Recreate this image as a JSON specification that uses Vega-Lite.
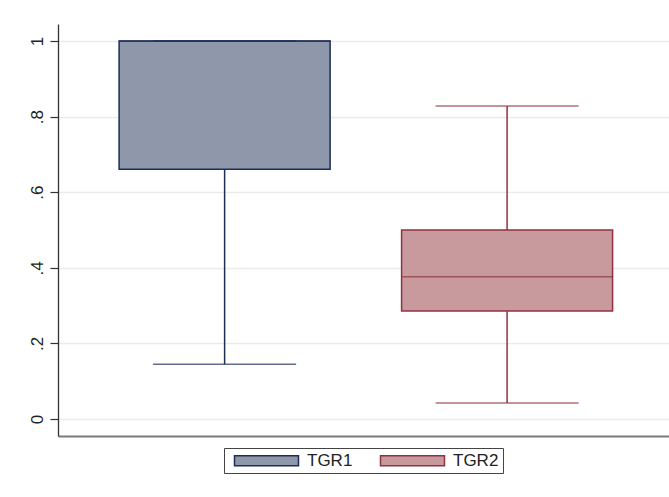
{
  "$schema": "https://vega.github.io/schema/vega-lite/v6.json",
  "width": 611,
  "height": 412,
  "autosize": {"type": "none"},
  "padding": {"left": 58, "top": 24, "right": 0, "bottom": 61},
  "background": "white",
  "config": {
    "view": {"stroke": null},
    "font": "Liberation Sans",
    "legend": {
      "title": null,
      "orient": "none",
      "legendX": 166,
      "legendY": 424,
      "direction": "horizontal",
      "padding": 4,
      "strokeColor": "#444",
      "fillColor": "white",
      "symbolType": "M-6.4,-1H6.4V1H-6.4Z",
      "symbolSize": 100,
      "symbolOffset": 30,
      "symbolStrokeWidth": 1.5,
      "symbolOpacity": 1,
      "labelFontSize": 17,
      "labelFont": "Liberation Sans",
      "labelColor": "#222",
      "labelOffset": 32,
      "columnPadding": 21
    }
  },
  "data": {
    "values": [
      {"group": "TGR1", "lower": 0.145, "q1": 0.661, "median": 1.0, "q3": 1.0, "upper": 1.0},
      {"group": "TGR2", "lower": 0.042, "q1": 0.286, "median": 0.376, "q3": 0.5, "upper": 0.828}
    ]
  },
  "encoding": {
    "x": {
      "field": "group",
      "type": "nominal",
      "scale": {"paddingInner": 0.253, "paddingOuter": 0.208, "align": 0.52},
      "axis": {
        "title": null,
        "labels": false,
        "ticks": false,
        "grid": false,
        "domainColor": "#7a7a7a",
        "domainWidth": 2
      }
    }
  },
  "layer": [
    {
      "mark": {"type": "rule", "strokeWidth": 1.5},
      "encoding": {
        "y": {
          "field": "lower",
          "type": "quantitative",
          "scale": {"domain": [-0.045, 1.045], "nice": false, "zero": false},
          "axis": {
            "title": null,
            "values": [0, 0.2, 0.4, 0.6, 0.8, 1],
            "labelExpr": "datum.value == 0 ? '0' : datum.value > 0.99 ? '1' : '.' + round(datum.value * 10)",
            "labelAngle": -90,
            "labelAlign": "center",
            "labelBaseline": "bottom",
            "labelPadding": 4,
            "labelFontSize": 17,
            "labelColor": "#222",
            "labelFont": "Liberation Sans",
            "tickSize": 8,
            "tickColor": "#333",
            "tickWidth": 1.2,
            "domainColor": "#333",
            "domainWidth": 1.3,
            "grid": true,
            "gridColor": "#ebebeb",
            "gridWidth": 1.5
          }
        },
        "y2": {"field": "q1"},
        "stroke": {"condition": {"test": "datum.group == 'TGR1'", "value": "#1c2d57"}, "value": "#8e3341"}
      }
    },
    {
      "mark": {"type": "rule", "strokeWidth": 1.5},
      "encoding": {
        "y": {"field": "q3", "type": "quantitative"},
        "y2": {"field": "upper"},
        "stroke": {"condition": {"test": "datum.group == 'TGR1'", "value": "#1c2d57"}, "value": "#8e3341"}
      }
    },
    {
      "mark": {"type": "bar", "strokeWidth": 1.5, "opacity": 1},
      "encoding": {
        "y": {"field": "q1", "type": "quantitative"},
        "y2": {"field": "q3"},
        "fill": {
          "field": "group",
          "type": "nominal",
          "scale": {"domain": ["TGR1", "TGR2"], "range": ["#8f98aa", "#c8999d"]}
        },
        "stroke": {
          "field": "group",
          "type": "nominal",
          "scale": {"domain": ["TGR1", "TGR2"], "range": ["#1c2d57", "#8e3341"]}
        }
      }
    },
    {
      "mark": {"type": "tick", "thickness": 1.5, "size": 211},
      "encoding": {
        "y": {"field": "median", "type": "quantitative"},
        "color": {"condition": {"test": "datum.group == 'TGR1'", "value": "#1c2d57"}, "value": "#8e3341"}
      }
    },
    {
      "mark": {"type": "tick", "thickness": 1.5, "size": 143},
      "encoding": {
        "y": {"field": "lower", "type": "quantitative"},
        "color": {"condition": {"test": "datum.group == 'TGR1'", "value": "#1c2d57"}, "value": "#8e3341"}
      }
    },
    {
      "mark": {"type": "tick", "thickness": 1.5, "size": 143},
      "encoding": {
        "y": {"field": "upper", "type": "quantitative"},
        "color": {"condition": {"test": "datum.group == 'TGR1'", "value": "#1c2d57"}, "value": "#8e3341"}
      }
    }
  ]
}
